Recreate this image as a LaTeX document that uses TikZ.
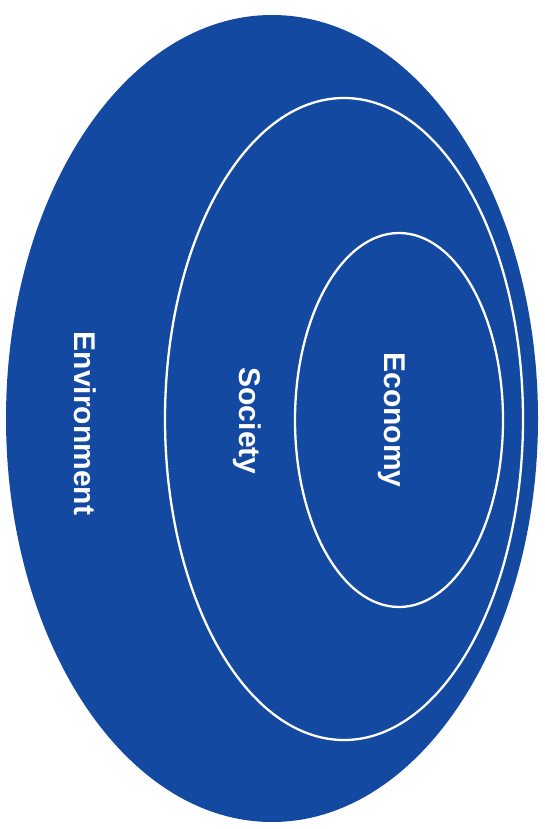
\documentclass[tikz,border=0pt]{standalone}
\usepackage{fontspec}
\setmainfont{Liberation Sans}
\definecolor{envblue}{RGB}{20,73,162}
\begin{document}
\begin{tikzpicture}[x=1pt,y=-1pt,
  ring/.style={draw=white,line width=2.3pt},
  lbl/.style={text=white,font=\fontsize{30}{36}\selectfont\bfseries,rotate=-90,inner sep=0pt}]
\useasboundingbox (0,0) rectangle (545,829);
\fill[envblue] (272,418.5) ellipse [x radius=266pt, y radius=403.5pt];
\draw[ring] (344,419) ellipse [x radius=179pt, y radius=321pt];
\draw[ring] (399,420) ellipse [x radius=104pt, y radius=187pt];
\node[lbl] (env) at (85,423.5) {Environment};
\node[lbl] (soc) at (247,421) {Society};
\node[lbl] (eco) at (392,420) {Economy};
\end{tikzpicture}
\end{document}
